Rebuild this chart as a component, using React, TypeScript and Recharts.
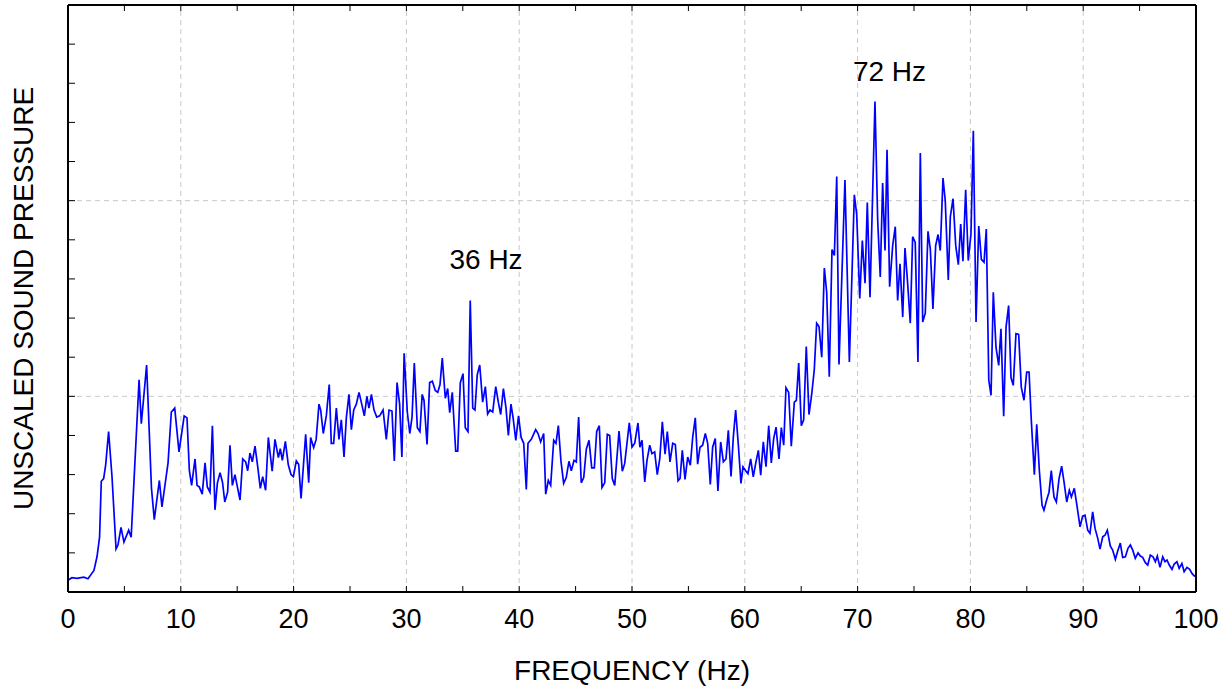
import { LineChart, Line, XAxis, YAxis, ReferenceLine, ReferenceDot, Label } from "recharts";

// frequency (Hz) of each traced spectrum point
const FREQ = [
  0, 0.35, 0.8, 1.4, 1.77, 2.3, 2.57, 2.8, 2.95, 3.16,
  3.34, 3.6, 3.9, 4.26, 4.43, 4.7, 4.96, 5.38, 5.6, 6.3,
  6.5, 6.97, 7.4, 7.65, 8.1, 8.33, 8.87, 9.16, 9.46, 9.84,
  10.3, 10.55, 10.76, 10.96, 11.26, 11.44, 11.64, 11.9, 12.15, 12.35,
  12.59, 12.8, 13.03, 13.24, 13.48, 13.7, 13.9, 14.15, 14.36, 14.57,
  14.8, 15.25, 15.49, 15.75, 15.93, 16.13, 16.34, 16.58, 16.82, 17.05,
  17.26, 17.52, 17.76, 18.1, 18.35, 18.65, 18.82, 19.0, 19.27, 19.53,
  19.77, 19.98, 20.24, 20.45, 20.66, 21.07, 21.34, 21.51, 21.78, 22.0,
  22.25, 22.4, 22.63, 22.9, 23.16, 23.34, 23.55, 23.79, 24.02, 24.23,
  24.47, 24.68, 24.91, 25.12, 25.33, 25.56, 25.8, 26.04, 26.27, 26.5,
  26.68, 26.9, 27.13, 27.37, 27.63, 27.93, 28.22, 28.46, 28.72, 28.93,
  29.17, 29.4, 29.6, 29.8, 30.08, 30.3, 30.5, 30.7, 30.97, 31.2,
  31.4, 31.56, 31.83, 32.06, 32.3, 32.56, 32.78, 32.98, 33.18, 33.45,
  33.66, 33.84, 34.07, 34.37, 34.55, 34.78, 35.02, 35.22, 35.46, 35.66,
  35.88, 36.08, 36.28, 36.5, 36.76, 37.0, 37.2, 37.41, 37.65, 37.92,
  38.15, 38.36, 38.6, 38.83, 39.04, 39.27, 39.46, 39.7, 39.94, 40.17,
  40.4, 40.63, 40.78, 41.07, 41.46, 41.67, 41.9, 42.17, 42.35, 42.58,
  42.79, 43.06, 43.26, 43.47, 43.7, 43.94, 44.17, 44.41, 44.62, 44.86,
  45.06, 45.27, 45.5, 45.72, 45.95, 46.19, 46.43, 46.66, 46.87, 47.1,
  47.34, 47.58, 47.81, 48.02, 48.25, 48.47, 48.85, 49.14, 49.35, 49.76,
  50.0, 50.24, 50.53, 50.7, 50.89, 51.13, 51.33, 51.57, 51.77, 52.01,
  52.24, 52.46, 52.69, 52.93, 53.13, 53.37, 53.61, 53.84, 54.08, 54.26,
  54.46, 54.7, 54.94, 55.17, 55.38, 55.61, 55.82, 56.03, 56.26, 56.5,
  56.71, 56.94, 57.15, 57.38, 57.62, 57.86, 58.1, 58.33, 58.54, 58.78,
  58.98, 59.19, 59.43, 59.66, 59.84, 60.08, 60.28, 60.52, 60.75, 60.99,
  61.2, 61.41, 61.64, 61.88, 62.12, 62.35, 62.56, 62.77, 63.03, 63.24,
  63.45, 63.65, 63.89, 64.12, 64.39, 64.57, 64.78, 65.01, 65.22, 65.45,
  65.69, 65.93, 66.16, 66.37, 66.58, 66.82, 67.05, 67.26, 67.49, 67.73,
  67.94, 68.15, 68.35, 68.88, 69.27, 69.71, 69.92, 70.19, 70.42, 70.66,
  70.86, 71.1, 71.54, 71.78, 72.01, 72.22, 72.43, 72.61, 72.84, 73.11,
  73.34, 73.55, 73.76, 74.0, 74.2, 74.44, 74.67, 74.88, 75.11, 75.35,
  75.56, 75.77, 76.0, 76.24, 76.45, 76.68, 76.92, 77.13, 77.33, 77.57,
  77.77, 78.04, 78.22, 78.46, 78.7, 78.93, 79.14, 79.34, 79.58, 79.81,
  80.05, 80.26, 80.5, 80.74, 80.97, 81.21, 81.41, 81.63, 81.83, 82.03,
  82.27, 82.51, 82.71, 82.95, 83.16, 83.39, 83.6, 83.8, 84.04, 84.28,
  84.51, 84.75, 84.99, 85.2, 85.4, 85.67, 85.88, 86.11, 86.35, 86.52,
  86.76, 86.97, 87.17, 87.41, 87.62, 87.86, 88.09, 88.3, 88.54, 88.77,
  88.95, 89.21, 89.45, 89.72, 89.95, 90.16, 90.4, 90.6, 90.84, 91.05,
  91.29, 91.49, 91.73, 91.93, 92.14, 92.4, 92.61, 92.85, 93.06, 93.29,
  93.5, 93.74, 93.97, 94.18, 94.39, 94.62, 94.86, 95.07, 95.27, 95.51,
  95.72, 95.95, 96.19, 96.4, 96.57, 96.81, 97.05, 97.25, 97.43, 97.63,
  97.87, 98.07, 98.31, 98.51, 98.75, 98.95, 99.2, 99.44, 99.64, 99.85,
  100,
];

// unscaled sound pressure
const PRESSURE = [
  0.06, 0.073, 0.07, 0.076, 0.068, 0.11, 0.18, 0.28, 0.566, 0.58,
  0.65, 0.82, 0.59, 0.22, 0.24, 0.33, 0.255, 0.316, 0.28, 1.085,
  0.86, 1.16, 0.53, 0.37, 0.57, 0.435, 0.66, 0.92, 0.94, 0.716,
  0.9, 0.89, 0.62, 0.545, 0.68, 0.545, 0.537, 0.5, 0.66, 0.537,
  0.51, 0.85, 0.42, 0.555, 0.61, 0.56, 0.46, 0.51, 0.75, 0.545,
  0.6, 0.47, 0.68, 0.665, 0.62, 0.71, 0.665, 0.745, 0.64, 0.53,
  0.59, 0.52, 0.79, 0.617, 0.78, 0.687, 0.733, 0.673, 0.77, 0.65,
  0.6, 0.59, 0.67, 0.653, 0.478, 0.806, 0.558, 0.79, 0.738, 0.78,
  0.96, 0.93, 0.81, 0.9, 1.06, 0.76, 0.76, 0.94, 0.78, 0.88,
  0.69, 0.894, 1.01, 0.83, 0.93, 0.96, 1.02, 0.96, 0.9, 1.0,
  0.94, 1.01, 0.93, 0.894, 0.9, 0.93, 0.78, 0.93, 0.925, 0.67,
  1.07, 0.96, 0.69, 1.22, 0.92, 0.81, 0.894, 1.17, 0.84, 0.82,
  1.01, 0.98, 0.754, 1.07, 1.077, 1.03, 1.02, 1.06, 1.195, 0.99,
  1.04, 0.917, 1.02, 0.72, 0.72, 1.07, 1.116, 0.84, 0.82, 1.49,
  0.94, 0.93, 1.11, 1.16, 0.97, 1.05, 0.91, 0.93, 0.92, 1.05,
  0.97, 0.907, 1.04, 0.94, 0.8, 0.96, 0.89, 0.775, 0.9, 0.79,
  0.76, 0.524, 0.76, 0.78, 0.83, 0.81, 0.767, 0.81, 0.5, 0.57,
  0.545, 0.775, 0.76, 0.85, 0.67, 0.555, 0.585, 0.668, 0.62, 0.673,
  0.665, 0.894, 0.558, 0.585, 0.73, 0.775, 0.634, 0.634, 0.82, 0.85,
  0.534, 0.558, 0.806, 0.8, 0.58, 0.545, 0.823, 0.617, 0.656, 0.864,
  0.74, 0.76, 0.864, 0.74, 0.775, 0.563, 0.673, 0.75, 0.707, 0.716,
  0.6, 0.68, 0.87, 0.704, 0.82, 0.665, 0.76, 0.754, 0.568, 0.58,
  0.724, 0.576, 0.69, 0.648, 0.79, 0.89, 0.653, 0.74, 0.75, 0.81,
  0.76, 0.55, 0.74, 0.784, 0.517, 0.767, 0.665, 0.68, 0.826, 0.59,
  0.79, 0.93, 0.75, 0.555, 0.64, 0.62, 0.605, 0.68, 0.588, 0.665,
  0.724, 0.597, 0.767, 0.64, 0.85, 0.66, 0.784, 0.843, 0.68, 0.84,
  0.75, 1.044, 1.02, 0.745, 0.97, 0.98, 1.17, 0.85, 0.88, 1.255,
  0.907, 1.01, 1.136, 1.374, 1.357, 1.2, 1.656, 1.532, 1.1, 1.75,
  1.72, 2.124, 1.163, 2.105, 1.175, 2.03, 1.93, 1.5, 1.796, 1.578,
  1.99, 1.507, 2.507, 1.9, 1.61, 2.09, 1.745, 2.26, 1.56, 1.77,
  1.867, 1.49, 1.677, 1.405, 1.758, 1.575, 1.374, 1.816, 1.787, 1.175,
  2.243, 1.38, 1.425, 1.843, 1.75, 1.447, 1.77, 1.827, 1.745, 2.116,
  2.0, 1.595, 1.918, 2.01, 1.77, 1.673, 1.88, 1.69, 2.055, 1.694,
  1.83, 2.357, 1.38, 1.87, 1.7, 1.685, 1.855, 1.082, 1.005, 1.532,
  1.25, 1.158, 1.345, 0.898, 1.354, 1.464, 1.095, 1.056, 1.32, 1.316,
  1.047, 0.98, 1.124, 1.124, 0.877, 0.6, 0.857, 0.622, 0.444, 0.418,
  0.47, 0.51, 0.62, 0.486, 0.46, 0.58, 0.643, 0.563, 0.46, 0.52,
  0.486, 0.53, 0.44, 0.333, 0.388, 0.393, 0.316, 0.3, 0.41, 0.325,
  0.274, 0.219, 0.282, 0.29, 0.316, 0.235, 0.214, 0.167, 0.21, 0.25,
  0.177, 0.18, 0.223, 0.24, 0.214, 0.172, 0.2, 0.184, 0.177, 0.15,
  0.138, 0.189, 0.18, 0.155, 0.184, 0.126, 0.18, 0.155, 0.163, 0.138,
  0.116, 0.143, 0.155, 0.121, 0.146, 0.104, 0.126, 0.116, 0.095, 0.082,
  0.085,
];

const X_TICKS = [0, 5, 10, 15, 20, 25, 30, 35, 40, 45, 50, 55, 60, 65, 70, 75, 80, 85, 90, 95, 100];
const Y_TICKS = [0, 0.2, 0.4, 0.6, 0.8, 1, 1.2, 1.4, 1.6, 1.8, 2, 2.2, 2.4, 2.6, 2.8, 3];
const GRID_X = [10, 20, 30, 40, 50, 60, 70, 80, 90];
const GRID_Y = [1, 2];

const data = FREQ.map((f, i) => ({ freq: f, pressure: PRESSURE[i] }));

const FONT = "'Liberation Sans', Arial, sans-serif";
const FS = 28;
const TICK_FS = 27;
const gridStyle = { stroke: "#c8c8c8", strokeWidth: 1, strokeDasharray: "5 4" };
const axisLine = { stroke: "#000", strokeWidth: 2 };

export default function App() {
  return (
    <div style={{ position: "absolute", left: 0, top: 0 }}>
      <LineChart
        width={1229}
        height={691}
        data={data}
        margin={{ top: 4, right: 32, left: 0, bottom: 0 }}
      >
        <XAxis
          xAxisId="b"
          dataKey="freq"
          type="number"
          domain={[0, 100]}
          ticks={X_TICKS}
          interval={0}
          height={99}
          tickSize={-6}
          tickMargin={23}
          axisLine={axisLine}
          tickLine={{ stroke: "#000" }}
          tick={{ fill: "#000", fontSize: TICK_FS, fontFamily: FONT }}
          tickFormatter={(v: number) => (v % 10 === 0 ? String(v) : "")}
        >
          <Label
            value="FREQUENCY (Hz)"
            position="insideBottom"
            offset={11}
            fill="#000"
            fontSize={FS}
            fontFamily={FONT}
          />
        </XAxis>
        <XAxis
          xAxisId="t"
          orientation="top"
          dataKey="freq"
          type="number"
          domain={[0, 100]}
          ticks={X_TICKS}
          interval={0}
          height={1}
          tickSize={-6}
          axisLine={axisLine}
          tickLine={{ stroke: "#000" }}
          tickFormatter={() => ""}
        />
        <YAxis
          yAxisId="l"
          type="number"
          domain={[0, 3]}
          ticks={Y_TICKS}
          interval={0}
          width={68}
          tickSize={-7}
          axisLine={axisLine}
          tickLine={{ stroke: "#000" }}
          tickFormatter={() => ""}
        >
          <Label
            value="UNSCALED SOUND PRESSURE"
            angle={-90}
            position="insideLeft"
            offset={23}
            fill="#000"
            fontSize={FS}
            fontFamily={FONT}
            style={{ textAnchor: "middle" }}
          />
        </YAxis>
        <YAxis
          yAxisId="r"
          orientation="right"
          type="number"
          domain={[0, 3]}
          ticks={Y_TICKS}
          interval={0}
          width={1}
          tickSize={-7}
          axisLine={axisLine}
          tickLine={{ stroke: "#000" }}
          tickFormatter={() => ""}
        />
        {GRID_X.map((x) => (
          <ReferenceLine key={"gx" + x} xAxisId="b" yAxisId="l" x={x} {...gridStyle} />
        ))}
        {GRID_Y.map((y) => (
          <ReferenceLine key={"gy" + y} xAxisId="b" yAxisId="l" y={y} {...gridStyle} />
        ))}
        <Line
          xAxisId="b"
          yAxisId="l"
          dataKey="pressure"
          stroke="#0000ff"
          strokeWidth={1.7}
          dot={false}
          isAnimationActive={false}
        />
        <ReferenceDot xAxisId="b" yAxisId="l" x={37.06} y={1.704} r={0} fill="none" stroke="none">
          <Label value="36 Hz" position="center" fill="#000" fontSize={FS} fontFamily={FONT} />
        </ReferenceDot>
        <ReferenceDot xAxisId="b" yAxisId="l" x={72.83} y={2.663} r={0} fill="none" stroke="none">
          <Label value="72 Hz" position="center" fill="#000" fontSize={FS} fontFamily={FONT} />
        </ReferenceDot>
      </LineChart>
    </div>
  );
}
